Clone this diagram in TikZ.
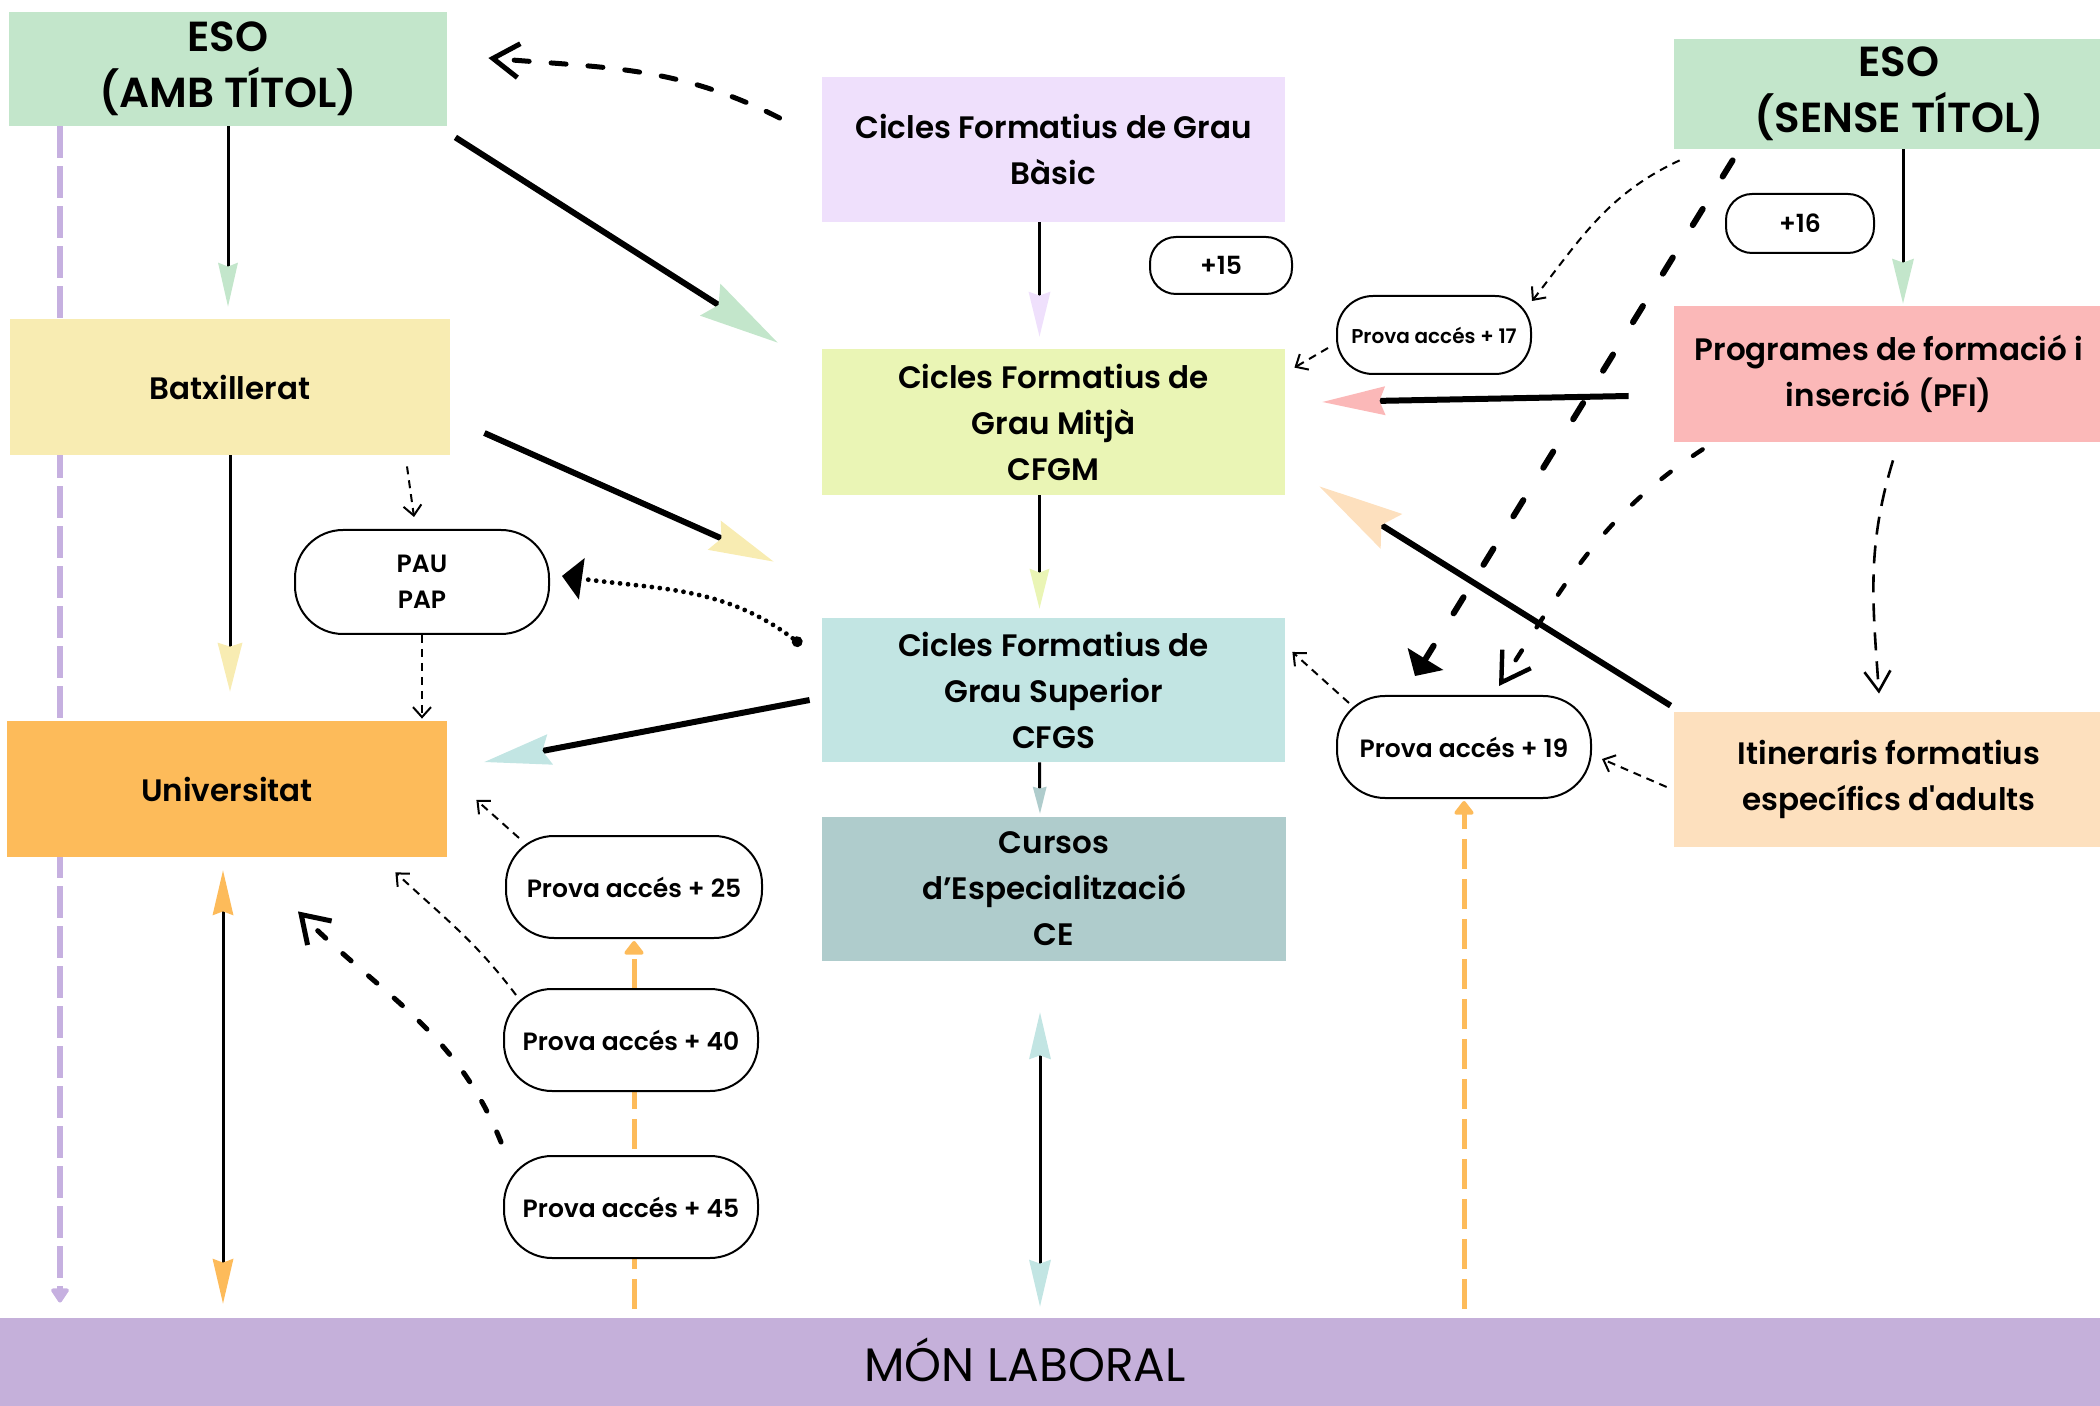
\documentclass[tikz,border=0pt]{standalone}
\usepackage{fontspec}
\setmainfont{Poppins}
\newfontfamily\medfont{Poppins SemiBold}
\newfontfamily\regfont{Poppins}
\usetikzlibrary{arrows.meta,backgrounds}

\definecolor{esogreen}{HTML}{C3E6CB}
\definecolor{batxyellow}{HTML}{F8ECB2}
\definecolor{basiclilac}{HTML}{EFE0FC}
\definecolor{mitjalime}{HTML}{EAF5B5}
\definecolor{superiorcyan}{HTML}{C2E5E3}
\definecolor{especteal}{HTML}{AFCCCC}
\definecolor{univorange}{HTML}{FDBB5A}
\definecolor{pfipink}{HTML}{FBB8B8}
\definecolor{adultpeach}{HTML}{FDE0BE}
\definecolor{laboralpurple}{HTML}{C5B0DA}
\definecolor{lilacline}{HTML}{C6B0E0}

\tikzset{
  box/.style={rectangle, inner sep=0pt, align=center,
    font=\medfont\fontsize{15.5}{23}\selectfont},
  headbox/.style={box, font=\medfont\fontsize{21}{28}\selectfont},
  pill/.style={rectangle, rounded corners=24pt, draw, line width=1pt,
    fill=white, inner sep=0pt, align=center,
    font=\medfont\fontsize{12.5}{18}\selectfont},
  thinline/.style={line width=1.5pt},
  thickline/.style={line width=3pt},
  dashthin/.style={line width=1pt, dash pattern=on 4pt off 3pt},
  veetip/.style={-{Straight Barb[length=5pt,width=9pt]}},
}

\begin{document}
\begin{tikzpicture}[x=0.5pt,y=-0.5pt]
\useasboundingbox (0,0) rectangle (2100,1406);

% boxes
\node[headbox, fill=esogreen, minimum width=219pt, minimum height=57pt] (esoamb) at (228,69) {ESO\\(AMB TÍTOL)};
\node[box, fill=batxyellow, minimum width=220pt, minimum height=68pt] (batx) at (230,387) {Batxillerat};
\node[box, fill=basiclilac, minimum width=231.5pt, minimum height=72.5pt] (cfgb) at (1053.5,149.5) {Cicles Formatius de Grau\\Bàsic};
\node[box, fill=mitjalime, minimum width=231.5pt, minimum height=73pt] (cfgm) at (1053.5,422) {Cicles Formatius de\\Grau Mitjà\\CFGM};
\node[box, fill=superiorcyan, minimum width=231.5pt, minimum height=72pt] (cfgs) at (1053.5,690) {Cicles Formatius de\\Grau Superior\\CFGS};
\node[box, fill=especteal, minimum width=232pt, minimum height=72pt] (ce) at (1054,889) {Cursos\\d’Especialització\\CE};
\node[box, fill=univorange, minimum width=220pt, minimum height=68pt] (univ) at (227,789) {Universitat};
\node[headbox, fill=esogreen, minimum width=225pt, minimum height=55pt] (esosense) at (1899,94) {ESO\\(SENSE TÍTOL)};
\node[box, fill=pfipink, minimum width=215pt, minimum height=68pt] (pfi) at (1889,374) {Programes de formació i\\inserció (PFI)};
\node[box, fill=adultpeach, minimum width=215pt, minimum height=67.5pt] (itin) at (1889,779.5) {Itineraris formatius\\específics d'adults};
\node[rectangle, fill=laboralpurple, inner sep=0pt, minimum width=1050pt, minimum height=44pt] (mon) at (1050,1362) {};
\node[font=\regfont\fontsize{23.5}{28}\selectfont] (monlabel) at (1025,1360) {MÓN LABORAL};

% pills
\node[pill, rounded corners=13pt, minimum width=71pt, minimum height=28.5pt] (p15) at (1221,265.5) {+15};
\node[pill, rounded corners=13pt, minimum width=74pt, minimum height=29.5pt] (p16) at (1800,223.5) {+16};
\node[pill, rounded corners=18pt, minimum width=97pt, minimum height=39pt, font=\medfont\fontsize{10}{12}\selectfont] (p17) at (1434,335) {Prova accés + 17};
\node[pill, minimum width=127pt, minimum height=52pt] (pau) at (422,582) {PAU\\PAP};
\node[pill, minimum width=128pt, minimum height=51pt] (p25) at (634,887) {Prova accés + 25};
\node[pill, minimum width=127pt, minimum height=51pt] (p40) at (631,1040) {Prova accés + 40};
\node[pill, minimum width=127pt, minimum height=51pt] (p45) at (631,1207) {Prova accés + 45};
\node[pill, minimum width=127pt, minimum height=51pt] (p19) at (1464,747) {Prova accés + 19};

\coordinate (lilactop) at ([xshift=-84pt]esoamb.south);
\coordinate (univbase) at ([xshift=-2pt]univ.south);
\coordinate (colx) at ([xshift=-7pt]ce.south);
\coordinate (sensex) at ([xshift=2pt]esosense.south);

% lines behind the boxes
\begin{scope}[on background layer]
\draw[lilacline, line width=2.6pt, dash pattern=on 16pt off 4pt, shorten >=7.5pt,
  -{Triangle[length=8pt,width=10pt,round]}] (lilactop) -- (lilactop |- mon.north);
\draw[univorange, line width=2.5pt, dash pattern=on 15pt off 5pt, shorten <=4.5pt, shorten >=1pt,
  -{Triangle[length=7.5pt,width=11pt,round]}] (p25.south |- mon.north) -- (p25.south);
\draw[univorange, line width=2.5pt, dash pattern=on 15pt off 5pt, shorten <=4.5pt, shorten >=1pt,
  -{Triangle[length=7.5pt,width=11pt,round]}] (p19.south |- mon.north) -- (p19.south);
\end{scope}

% straight down the columns
\draw[thinline, shorten >=6pt, -{Stealth[length=22pt,width=10pt,inset=2pt,color=esogreen,line width=0pt]}]
  (esoamb.south) -- (esoamb.south |- batx.north);
\draw[thinline, shorten >=14.5pt, -{Stealth[length=24.5pt,width=12.5pt,inset=2pt,color=batxyellow,line width=0pt]}]
  (batx.south) -- (batx.south |- univ.north);
\draw[thinline, shorten >=6pt, -{Stealth[length=22.5pt,width=11pt,inset=2pt,color=basiclilac,line width=0pt]}]
  ([xshift=-7pt]cfgb.south) -- ([xshift=-7pt]cfgm.north);
\draw[thinline, shorten >=4.5pt, -{Stealth[length=20pt,width=10pt,inset=2pt,color=mitjalime,line width=0pt]}]
  ([xshift=-7pt]cfgm.south) -- ([xshift=-7pt]cfgs.north);
\draw[thinline, shorten >=1.5pt, -{Stealth[length=13.5pt,width=7pt,inset=1pt,color=especteal,line width=0pt]}]
  ([xshift=-7pt]cfgs.south) -- ([xshift=-7pt]ce.north);
\draw[thinline, shorten <=25.5pt, shorten >=5.5pt,
  {Stealth[length=23.5pt,width=11pt,inset=2pt,color=superiorcyan,line width=0pt]}-{Stealth[length=23.5pt,width=11pt,inset=2pt,color=superiorcyan,line width=0pt]}]
  (colx) -- (colx |- mon.north);
\draw[thinline, shorten <=6.5pt, shorten >=7pt,
  {Stealth[length=22.5pt,width=10.5pt,inset=2pt,color=univorange,line width=0pt]}-{Stealth[length=22.5pt,width=10.5pt,inset=2pt,color=univorange,line width=0pt]}]
  (univbase) -- (univbase |- mon.north);
\draw[thinline, shorten >=1pt, -{Stealth[length=22.5pt,width=11pt,inset=2pt,color=esogreen,line width=0pt]}]
  (sensex) -- (sensex |- pfi.north);

% thick solid arrows
\draw[thickline, -{Stealth[length=40pt,width=19pt,inset=5pt,color=esogreen,line width=0pt]}]
  ([shift={(8,11)}]esoamb.south east) -- ([shift={(-44,-6)}]cfgm.north west);
\draw[thickline, -{Stealth[length=32.5pt,width=16pt,inset=4pt,color=batxyellow,line width=0pt]}]
  ([shift={(34,46)}]batx.east) -- ([shift={(-48,-56)}]cfgs.north west);
\draw[thickline, -{Stealth[length=33.5pt,width=15.5pt,inset=4pt,color=superiorcyan,line width=0pt]}]
  ([shift={(-12,10)}]cfgs.west) -- ([shift={(37,-27)}]univ.east);
\draw[thickline, -{Stealth[length=31.5pt,width=14.5pt,inset=3pt,color=pfipink,line width=0pt]}]
  ([shift={(-45,22)}]pfi.west) -- ([shift={(37,-20)}]cfgm.east);
\draw[thickline, -{Stealth[length=42.5pt,width=20.5pt,inset=6pt,color=adultpeach,line width=0pt]}]
  ([shift={(-3,-6)}]itin.north west) -- ([shift={(34,-9)}]cfgm.south east);

% dashed and dotted paths
\draw[line width=2.5pt, line cap=round, dash pattern=on 7.5pt off 11pt, -{Straight Barb[length=13pt,width=17pt]}]
  ([shift={(-42,-31.5)}]cfgb.west) to[out=153,in=-5] ([shift={(41,-11)}]esoamb.east);
\draw[line width=2.4pt, line cap=round, dash pattern=on 0pt off 4pt,
  {Circle[length=5.5pt,line width=0pt]}-{Triangle[length=10pt,width=21pt,line width=0pt]}]
  ([shift={(-20,-45)}]cfgs.west) to[out=143,in=-8] ([shift={(12,-6)}]pau.east);
\draw[line width=2.5pt, line cap=round, dash pattern=on 5.5pt off 11.5pt, -{Straight Barb[length=13pt,width=17pt]}]
  ([shift={(-130,-65)}]p45.center) to[out=112,in=-45] ([shift={(71,54)}]univ.south);
\draw[line width=3pt, line cap=round, dash pattern=on 9.5pt off 19pt, -{Triangle[length=10pt,width=21pt,line width=0pt]}]
  ([shift={(59,11)}]esosense.south west) -- ([shift={(-49,-19)}]p19.north);
\draw[line width=2.2pt, line cap=round, dash pattern=on 5.8pt off 13.7pt, -{Straight Barb[length=14pt,width=17pt]}]
  ([shift={(29,7)}]pfi.south west) to[out=213,in=57] ([shift={(35,-9)}]p19.north);
\draw[line width=1.3pt, dash pattern=on 9pt off 5.5pt, -{Straight Barb[length=10pt,width=13pt]}]
  ([shift={(4,18)}]pfi.south) to[out=253,in=94] ([shift={(-10,-18)}]itin.north);

\draw[dashthin, veetip] ([shift={(177,11)}]batx.south) -- ([shift={(-8,-12)}]pau.north);
\draw[dashthin, veetip, shorten >=1pt] (pau.south) -- (pau.south |- univ.north);
\draw[dashthin, veetip] ([shift={(-115,-49)}]p25.center) -- ([shift={(29,11)}]univ.east);
\draw[dashthin, veetip] ([shift={(-115,-45)}]p40.center) to[out=127,in=-43] ([shift={(-52,15)}]univ.south east);
\draw[dashthin, veetip] ([shift={(-7,7.5)}]itin.west) -- ([shift={(10,12)}]p19.east);
\draw[dashthin, veetip] ([shift={(-115,-44)}]p19.center) -- ([shift={(7,-38)}]cfgs.east);
\draw[dashthin, veetip] ([shift={(-106,13)}]p17.center) -- ([shift={(9,19)}]cfgm.north east);
\draw[dashthin, veetip] ([shift={(6,11)}]esosense.south west) to[out=205,in=52] ([shift={(98,-34)}]p17.center);
\end{tikzpicture}
\end{document}
